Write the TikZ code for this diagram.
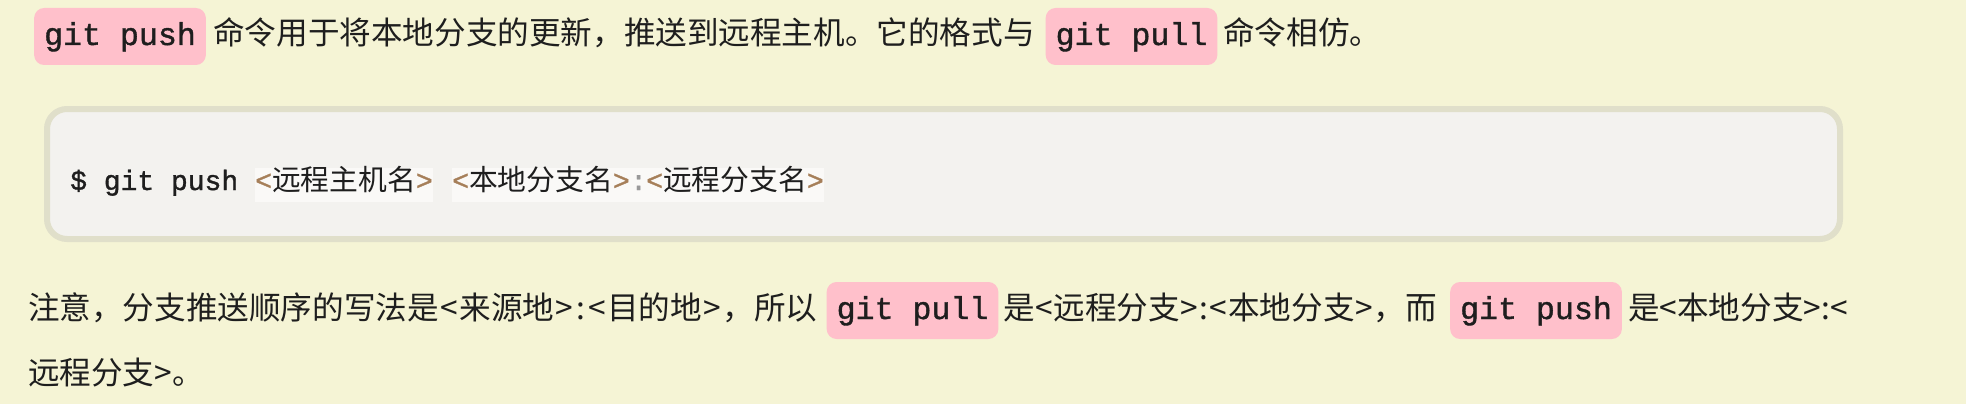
\documentclass[tikz,border=0pt]{standalone}
\usepackage{fontspec}
\newfontfamily\cjk{Noto Sans CJK SC}
\newfontfamily\mono[FakeBold=1.2]{Liberation Mono}
\definecolor{pagebg}{HTML}{F5F4D5}
\definecolor{pinkbg}{HTML}{FFC0CB}
\definecolor{codebg}{HTML}{F3F2EF}
\definecolor{codeborder}{HTML}{E0DFCA}
\definecolor{hlbg}{HTML}{FAF9F7}
\definecolor{opcolor}{HTML}{A67F59}
\definecolor{punct}{HTML}{999999}
\definecolor{ink}{HTML}{1E1E1E}
\tikzset{
  body/.style={anchor=base west, inner sep=0pt, text=ink, font=\cjk\fontsize{31.6}{38}\selectfont},
  pinkbox/.style={anchor=base, fill=pinkbg, rounded corners=10pt, inner xsep=10pt, inner ysep=0pt,
    text height=37pt, text depth=20pt, text=ink, font=\mono\fontsize{31.6}{38}\selectfont},
  codetext/.style={anchor=base west, inner sep=0pt, text=ink, font=\mono\fontsize{28}{34}\selectfont},
  tokgroup/.style={anchor=base west, inner xsep=0pt, inner ysep=0pt, fill=hlbg,
    text height=22pt, text depth=12pt, text=ink, font=\mono\fontsize{28}{34}\selectfont},
}
\newcommand{\op}[1]{\textcolor{opcolor}{#1}}
\newcommand{\ccjk}[1]{{\cjk\fontsize{28.8}{34}\selectfont #1}}
\newcommand{\sy}[1]{\hspace{1.5pt}#1\hspace{1.5pt}}
\newcommand{\sya}[1]{\hspace{0.7pt}#1\hspace{0.7pt}}
\begin{document}
\begin{tikzpicture}[x=1pt,y=-1pt]
\fill[pagebg] (0,0) rectangle (1966,404);
\useasboundingbox (0,0) rectangle (1966,404);
% line 1
\node[pinkbox] (p1) at (120,45) {git push};
\node[body] (t1a) at (213,45) {命令用于将本地分支的更新，推送到远程主机。它的格式与};
\node[pinkbox] (p2) at (1131.5,45) {git pull};
\node[body] (t1b) at (1223,45) {命令相仿。};
% code block
\draw[codeborder, fill=codebg, line width=6pt, rounded corners=20pt] (47,109) rectangle (1840,239);
\node[codetext] (c0) at (70,190) {\$ git push};
\node[tokgroup] (c1) at (255,190) {\op{<}\ccjk{远程主机名}\op{>}};
\node[tokgroup] (c2) at (452,190) {\op{<}\ccjk{本地分支名}\op{>}};
\node[tokgroup] (c3) at (630,190) {\textcolor{punct}{:}};
\node[tokgroup] (c4) at (646,190) {\op{<}\ccjk{远程分支名}\op{>}};
% line 3
\node[body] (t3a) at (28,319) {注意，分支推送顺序的写法是\sy{<}来源地\sy{>}\sy{:}\sy{<}目的地\sy{>}，所以};
\node[pinkbox] (p3) at (912.5,319) {git pull};
\node[body] (t3b) at (1003,319) {是\sya{<}远程分支\sya{>}\sya{:}\sya{<}本地分支\sya{>}，而};
\node[pinkbox] (p4) at (1536,319) {git push};
\node[body] (t3c) at (1628,319) {是<本地分支>:<};
% line 4
\node[body] (t4) at (28,384) {远程分支>。};
\end{tikzpicture}
\end{document}
